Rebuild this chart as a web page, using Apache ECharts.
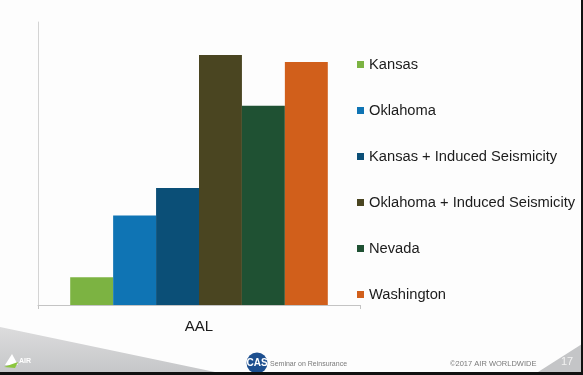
<!DOCTYPE html>
<html>
<head>
<meta charset="utf-8">
<script src="https://cdn.jsdelivr.net/npm/echarts@6/dist/echarts.min.js"></script>
<style>
  html, body { margin: 0; padding: 0; background: #fff; }
  #chart { width: 583px; height: 375px; }
</style>
</head>
<body>
<div id="chart"></div>
<script>
// Average annual loss comparison, one bar per region
const categories = ['AAL'];
const seriesNames = [
  'Kansas',
  'Oklahoma',
  'Kansas + Induced Seismicity',
  'Oklahoma + Induced Seismicity',
  'Nevada',
  'Washington'
];
const seriesValues = [9.8, 31.6, 41.3, 88.3, 70.4, 85.9];
const seriesColors = ['#7cb342', '#0f74b4', '#0b4f77', '#4a4521', '#1f5133', '#d15f1b'];

const chart = echarts.init(document.getElementById('chart'), null, { renderer: 'canvas' });

const series = seriesNames.map((name, i) => ({
  name: name,
  type: 'bar',
  data: [seriesValues[i]],
  barGap: '0%',
  barCategoryGap: '20%',
  itemStyle: { color: seriesColors[i] },
  emphasis: { disabled: true }
}));

chart.setOption({
  animation: false,
  backgroundColor: '#fdfdfd',
  grid: { left: 38, right: 223, top: 22, bottom: 70, containLabel: false },
  xAxis: {
    type: 'category',
    data: categories,
    axisLine: { lineStyle: { color: '#c4c4c4', width: 1 } },
    axisTick: { show: true, length: 4, lineStyle: { color: '#c4c4c4' } },
    axisLabel: {
      color: '#1a1a1a', fontSize: 15, margin: 14,
      fontFamily: 'Liberation Sans, Arial, sans-serif'
    }
  },
  yAxis: {
    type: 'value',
    min: 0,
    max: 100,
    axisLine: { show: true, lineStyle: { color: '#d4d4d4', width: 1 } },
    axisTick: { show: false },
    axisLabel: { show: false },
    splitLine: { show: false }
  },
  legend: {
    orient: 'vertical',
    left: 357,
    top: 57,
    padding: 0,
    icon: 'rect',
    itemWidth: 7,
    itemHeight: 7,
    itemGap: 31,
    selectedMode: false,
    textStyle: {
      color: '#1c1c1c', fontSize: 14.7, lineHeight: 14,
      fontFamily: 'Liberation Sans, Arial, sans-serif'
    },
    data: seriesNames
  },
  series: series,
  graphic: [
    // lower-left grey wedge
    {
      type: 'polygon', z: -1,
      shape: { points: [[0, 327], [215, 372], [0, 372]] },
      style: {
        fill: new echarts.graphic.LinearGradient(0, 0, 0, 1, [
          { offset: 0, color: '#dcdcdd' },
          { offset: 1, color: '#c6c7c9' }
        ])
      }
    },
    // lower-right grey wedge
    {
      type: 'polygon', z: -1,
      shape: { points: [[582, 344], [538, 372], [582, 372]] },
      style: { fill: '#c4c5c7' }
    },
    // AIR logo mark
    {
      type: 'polygon',
      shape: { points: [[5, 365], [12, 354], [18, 365]] },
      style: { fill: '#ffffff' }
    },
    {
      type: 'polygon',
      shape: { points: [[4, 367], [18, 362], [15, 368]] },
      style: { fill: '#8cc63f' }
    },
    {
      type: 'text',
      style: {
        x: 19, y: 361, text: 'AIR', fill: '#ffffff',
        font: 'bold 7px Liberation Sans, Arial, sans-serif',
        textVerticalAlign: 'middle'
      }
    },
    // CAS badge
    {
      type: 'circle',
      shape: { cx: 257, cy: 363, r: 10.5 },
      style: { fill: '#1d4f8f' }
    },
    {
      type: 'text',
      style: {
        x: 257, y: 363, text: 'CAS', fill: '#ffffff',
        font: 'bold 10px Liberation Sans, Arial, sans-serif',
        textAlign: 'center', textVerticalAlign: 'middle'
      }
    },
    {
      type: 'text',
      style: {
        x: 270, y: 364, text: 'Seminar on Reinsurance', fill: '#7a7a7a',
        font: '7px Liberation Sans, Arial, sans-serif',
        textVerticalAlign: 'middle'
      }
    },
    {
      type: 'text',
      style: {
        x: 450, y: 364, text: '\u00a92017 AIR WORLDWIDE', fill: '#7a7a7a',
        font: '7.5px Liberation Sans, Arial, sans-serif',
        textVerticalAlign: 'middle'
      }
    },
    {
      type: 'text',
      style: {
        x: 567, y: 362, text: '17', fill: '#f2f2f2',
        font: '11px Liberation Sans, Arial, sans-serif',
        textAlign: 'center', textVerticalAlign: 'middle'
      }
    },
    // frame edges
    { type: 'rect', shape: { x: 581, y: 0, width: 2, height: 375 }, style: { fill: '#111' } },
    { type: 'rect', shape: { x: 0, y: 372, width: 583, height: 3 }, style: { fill: '#111' } }
  ]
});
</script>
</body>
</html>
